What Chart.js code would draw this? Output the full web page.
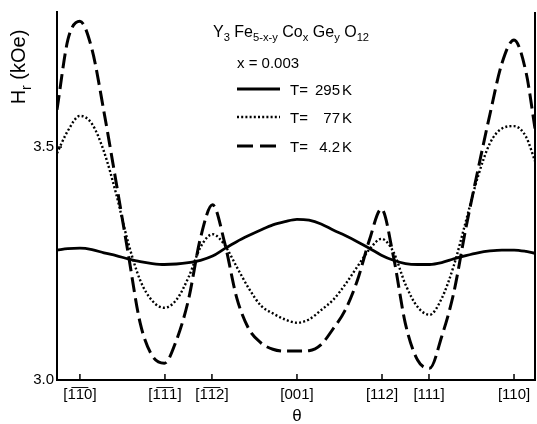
<!DOCTYPE html>
<html>
<head>
<meta charset="utf-8">
<script src="https://cdn.jsdelivr.net/npm/chart.js@4"></script>
<style>
  html, body { margin: 0; padding: 0; background: #fff; }
</style>
</head>
<body>
<canvas id="hrChart" width="537" height="424"></canvas>
<script>
// angle theta measured from [-1-10] (deg)
const thetaDeg = [-9.5, -5, 0, 5, 10, 15, 20, 25, 30, 35, 40, 45, 50, 55, 60, 65, 70, 75, 80, 85, 90,
    95, 100, 105, 110, 115, 120, 125, 130, 135, 140, 145, 150, 155, 160, 165, 170, 175, 180, 185, 188.7];

const hr295K = [3.279, 3.282, 3.283, 3.280, 3.273, 3.267, 3.260, 3.254, 3.250, 3.248, 3.249, 3.252, 3.257, 3.266,
    3.282, 3.297, 3.310, 3.322, 3.333, 3.340, 3.345, 3.343, 3.335, 3.322, 3.310, 3.297, 3.283, 3.268, 3.257,
    3.250, 3.248, 3.248, 3.252, 3.260, 3.267, 3.273, 3.277, 3.279, 3.279, 3.276, 3.272];

const hr77K = [3.487, 3.535, 3.567, 3.550, 3.490, 3.400, 3.295, 3.214, 3.170, 3.155, 3.172, 3.220, 3.285, 3.313,
    3.290, 3.243, 3.197, 3.160, 3.143, 3.130, 3.123, 3.130, 3.150, 3.172, 3.205, 3.243, 3.280, 3.303, 3.275,
    3.205, 3.157, 3.140, 3.175, 3.245, 3.340, 3.436, 3.508, 3.540, 3.545, 3.522, 3.470];

const hr4K = [3.580, 3.730, 3.770, 3.710, 3.575, 3.425, 3.272, 3.122, 3.052, 3.036, 3.085, 3.172, 3.305, 3.376,
    3.295, 3.177, 3.110, 3.080, 3.066, 3.062, 3.062, 3.063, 3.076, 3.110, 3.150, 3.213, 3.300, 3.367, 3.265,
    3.120, 3.043, 3.025, 3.093, 3.187, 3.325, 3.450, 3.570, 3.680, 3.730, 3.660, 3.540];

const xTickAngles = [0, 35.26, 54.74, 90, 125.26, 144.74, 180];
const xTickLabels = ['[1\u03051\u03050]', '[1\u03051\u03051]', '[1\u03051\u03052]', '[001]', '[112]', '[111]', '[110]'];
const yTickValues = [3.0, 3.5];

const toPoints = (ys) => thetaDeg.map((t, i) => ({x: t, y: ys[i]}));

const textFont = '"Liberation Sans", Arial, sans-serif';

// draws a run of [text, isSubscript] pieces starting at x
function drawRuns(ctx, runs, x, y, size) {
    runs.forEach(function (r) {
        const sub = r[1];
        ctx.font = (sub ? size * 0.7 : size) + 'px ' + textFont;
        ctx.fillText(r[0], x, sub ? y + size * 0.28 : y);
        x += ctx.measureText(r[0]).width;
    });
    return x;
}

function runsWidth(ctx, runs, size) {
    let w = 0;
    runs.forEach(function (r) {
        ctx.font = (r[1] ? size * 0.7 : size) + 'px ' + textFont;
        w += ctx.measureText(r[0]).width;
    });
    return w;
}

const decorPlugin = {
    id: 'decor',
    afterDraw(chart) {
        const ctx = chart.ctx;
        const area = chart.chartArea;
        const xs = chart.scales.x;
        const ys = chart.scales.y;
        ctx.save();
        ctx.strokeStyle = '#000';
        ctx.fillStyle = '#000';
        ctx.lineWidth = 2;

        // right frame line
        ctx.beginPath();
        ctx.moveTo(area.right, area.top);
        ctx.lineTo(area.right, area.bottom);
        ctx.stroke();

        // inward tick marks
        ctx.lineWidth = 1.5;
        xTickAngles.forEach(function (a) {
            const px = xs.getPixelForValue(a);
            ctx.beginPath();
            ctx.moveTo(px, area.bottom);
            ctx.lineTo(px, area.bottom - 6);
            ctx.stroke();
        });
        yTickValues.forEach(function (v) {
            const py = ys.getPixelForValue(v);
            ctx.beginPath();
            ctx.moveTo(area.left, py);
            ctx.lineTo(area.left + 5, py);
            ctx.stroke();
        });

        // formula
        ctx.textBaseline = 'alphabetic';
        ctx.textAlign = 'left';
        drawRuns(ctx, [['Y', false], ['3', true], [' Fe', false], ['5-x-y', true], [' Co', false], ['x', true],
            [' Ge', false], ['y', true], [' O', false], ['12', true]], 213, 37, 16);

        ctx.font = '15px ' + textFont;
        ctx.fillText('x = 0.003', 237, 68);

        // legend rows
        const rows = [
            {y: 89, dash: [], width: 2.8, num: '295'},
            {y: 117, dash: [2, 2.2], width: 2.4, num: '77'},
            {y: 146, dash: [16, 7], width: 3, num: '4.2'}
        ];
        rows.forEach(function (r) {
            ctx.setLineDash(r.dash);
            ctx.lineWidth = r.width;
            ctx.beginPath();
            ctx.moveTo(237, r.y);
            ctx.lineTo(280, r.y);
            ctx.stroke();
            ctx.setLineDash([]);
            ctx.font = '15px ' + textFont;
            ctx.textAlign = 'left';
            ctx.fillText('T=', 290, r.y + 6);
            ctx.textAlign = 'right';
            ctx.fillText(r.num, 340, r.y + 6);
            ctx.textAlign = 'left';
            ctx.fillText('K', 342, r.y + 6);
        });

        // y axis title
        const yRuns = [['H', false], ['r', true], [' (kOe)', false]];
        ctx.translate(25, 67);
        ctx.rotate(-Math.PI / 2);
        const w = runsWidth(ctx, yRuns, 20);
        drawRuns(ctx, yRuns, -w / 2, 0, 20);
        ctx.setTransform(1, 0, 0, 1, 0, 0);

        // x axis title
        ctx.font = '17px ' + textFont;
        ctx.textAlign = 'center';
        ctx.fillText('\u03b8', xs.getPixelForValue(90), 421);
        ctx.restore();
    }
};

const hrChart = new Chart(document.getElementById('hrChart'), {
    type: 'line',
    data: {
        datasets: [
            {
                label: 'T = 295 K',
                data: toPoints(hr295K),
                borderColor: '#000',
                borderWidth: 2.8,
                pointRadius: 0,
                cubicInterpolationMode: 'monotone'
            },
            {
                label: 'T = 77 K',
                data: toPoints(hr77K),
                borderColor: '#000',
                borderWidth: 2.4,
                borderDash: [2, 2.2],
                pointRadius: 0,
                cubicInterpolationMode: 'monotone'
            },
            {
                label: 'T = 4.2 K',
                data: toPoints(hr4K),
                borderColor: '#000',
                borderWidth: 3,
                borderDash: [15, 6],
                pointRadius: 0,
                cubicInterpolationMode: 'monotone'
            }
        ]
    },
    options: {
        responsive: false,
        animation: false,
        layout: {padding: {top: 12, right: 2, left: 0, bottom: 0}},
        plugins: {
            legend: {display: false},
            tooltip: {enabled: false}
        },
        scales: {
            x: {
                type: 'linear',
                min: -9.5,
                max: 188.7,
                afterBuildTicks: function (scale) {
                    scale.ticks = xTickAngles.map(v => ({value: v}));
                },
                afterFit: function (scale) {
                    scale.height = 44;
                },
                ticks: {
                    autoSkip: false,
                    maxRotation: 0,
                    padding: 6,
                    color: '#000',
                    font: {family: textFont, size: 15},
                    callback: function (v, i) {
                        return xTickLabels[i];
                    }
                },
                grid: {display: false, drawTicks: false},
                border: {display: true, color: '#000', width: 2}
            },
            y: {
                min: 3.0,
                max: 3.79,
                afterBuildTicks: function (scale) {
                    scale.ticks = yTickValues.map(v => ({value: v}));
                },
                afterFit: function (scale) {
                    scale.width = 57;
                },
                ticks: {
                    padding: 3,
                    color: '#000',
                    font: {family: textFont, size: 15},
                    callback: function (v) {
                        return v.toFixed(1);
                    }
                },
                grid: {display: false, drawTicks: false},
                border: {display: true, color: '#000', width: 2}
            }
        }
    },
    plugins: [decorPlugin]
});
</script>
</body>
</html>
